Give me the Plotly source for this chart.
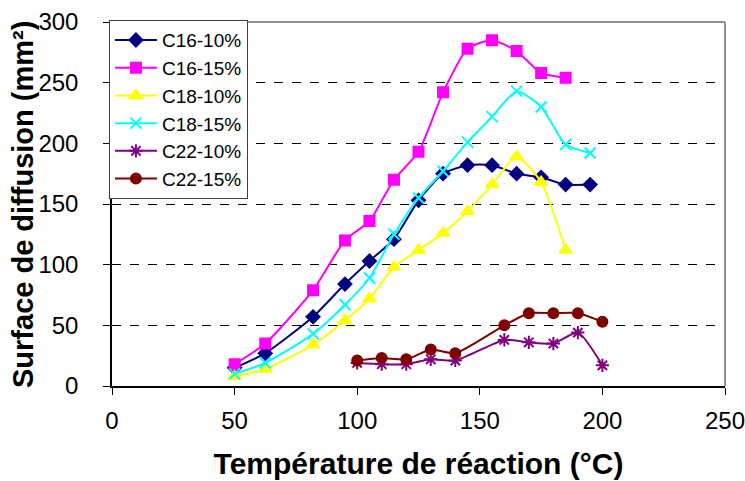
import plotly.graph_objects as go

# --- data ---
x_c16 = [50, 62.5, 82, 95, 105, 115, 125, 135, 145, 155, 165, 175, 185, 195]
c16_10 = [15, 27, 57, 84, 103, 121, 153, 175, 182, 182, 175, 172, 166, 166]
x_c16_15 = [50, 62.5, 82, 95, 105, 115, 125, 135, 145, 155, 165, 175, 185]
c16_15 = [18, 35, 79, 120, 136, 170, 193, 242, 278, 285, 276, 258, 254]

x_c18_10 = [50, 62.5, 82, 95, 105, 115, 125, 135, 145, 155, 165, 175, 185]
c18_10 = [8, 14, 34, 54, 72, 98, 112, 126, 144, 166, 189, 168, 112]
x_c18_15 = [50, 62.5, 82, 95, 105, 115, 125, 135, 145, 155, 165, 175, 185, 195]
c18_15 = [10, 19, 43, 67, 89, 125, 155, 177, 201, 222, 243, 230, 199, 192]

x_c22 = [100, 110, 120, 130, 140, 160, 170, 180, 190, 200]
c22_10 = [19, 18, 18, 22, 21, 38, 36, 35, 44, 17]
c22_15 = [21, 23, 22, 30, 27, 50, 60, 60, 60, 53]

x_ticks = [0, 50, 100, 150, 200, 250]
y_ticks = [0, 50, 100, 150, 200, 250, 300]

series = [
    ("C16-10%", x_c16, c16_10, "#000080", "diamond", 10),
    ("C16-15%", x_c16_15, c16_15, "#FF00FF", "square", 10),
    ("C18-10%", x_c18_10, c18_10, "#FFFF00", "triangle-up", 11),
    ("C18-15%", x_c18_15, c18_15, "#00FFFF", "x-thin-open", 11),
    ("C22-10%", x_c22, c22_10, "#800080", "asterisk-open", 11),
    ("C22-15%", x_c22, c22_15, "#800000", "circle", 10),
]

fig = go.Figure()
for name, xs, ys, col, sym, sz in series:
    fig.add_trace(go.Scatter(
        x=xs, y=ys, name=name, mode="lines+markers",
        line=dict(color=col, width=2, shape="spline", smoothing=0.6),
        marker=dict(symbol=sym, size=sz, color=col, line=dict(color=col, width=2)),
    ))

font = "Arial, Liberation Sans, sans-serif"
fig.update_layout(
    width=745, height=481,
    margin=dict(l=112, r=20, t=22, b=95, autoexpand=False),
    paper_bgcolor="white", plot_bgcolor="white",
    font=dict(family=font, size=24, color="black"),
    showlegend=True,
    legend=dict(
        x=-0.005, y=1.005, xanchor="left", yanchor="top",
        bgcolor="white", bordercolor="#404040", borderwidth=1,
        font=dict(family=font, size=19, color="black"),
        tracegroupgap=0, itemwidth=42,
    ),
    xaxis=dict(
        range=[0, 250], tickvals=x_ticks, ticktext=[str(v) for v in x_ticks],
        showline=True, linecolor="black", linewidth=1.5,
        ticks="outside", ticklen=7, tickcolor="black",
        showgrid=False, zeroline=False, automargin=False,
        tickfont=dict(size=24), ticklabelstandoff=5, ticklabeloverflow="allow",
        title=dict(text="<b>Température de réaction (°C)</b>",
                   font=dict(size=30), standoff=20),
    ),
    yaxis=dict(
        range=[0, 300], tickvals=y_ticks, ticktext=[str(v) for v in y_ticks],
        showline=True, linecolor="black", linewidth=1.5,
        ticks="outside", ticklen=7, tickcolor="black",
        showgrid=True, gridcolor="black", griddash="dash", gridwidth=1,
        zeroline=False, automargin=False,
        tickfont=dict(size=24), ticklabelstandoff=20, ticklabeloverflow="allow",
    ),
    annotations=[
        dict(text="<b>Surface de diffusion (mm²)</b>", textangle=-90,
             xref="paper", yref="paper", x=-0.1452, y=0.5,
             xanchor="center", yanchor="middle", showarrow=False,
             font=dict(family=font, size=29, color="black")),
    ],
    shapes=[
        dict(type="line", xref="paper", yref="paper", x0=0, x1=1, y0=1, y1=1,
             line=dict(color="#909090", width=2), layer="above"),
        dict(type="line", xref="paper", yref="paper", x0=1, x1=1, y0=0, y1=1,
             line=dict(color="#909090", width=2), layer="above"),
    ],
)

fig.write_html(
    "out.html",
    config={"displayModeBar": False},
    post_script="document.body.style.margin='0';document.body.style.overflow='hidden';",
)
